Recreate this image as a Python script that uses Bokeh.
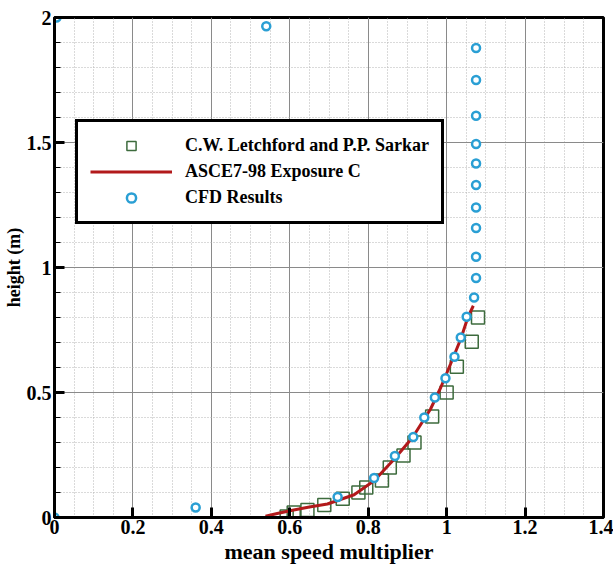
from bokeh.plotting import figure
from bokeh.models import Legend, LegendItem, FixedTicker, Range1d
from bokeh.embed import file_html
from bokeh.resources import INLINE

# ---- data ----
letchford_x = [0.592, 0.61, 0.645, 0.688, 0.735, 0.775, 0.795, 0.835, 0.855,
               0.89, 0.918, 0.963, 1.0, 1.026, 1.064, 1.08]
letchford_y = [0.004, 0.02, 0.03, 0.05, 0.075, 0.10, 0.12, 0.148, 0.20,
               0.248, 0.30, 0.404, 0.50, 0.603, 0.703, 0.80]

asce_x = [0.538, 0.568, 0.61, 0.65, 0.696, 0.764, 0.815, 0.866, 0.913,
          0.959, 0.985, 1.010, 1.036, 1.054, 1.068]
asce_y = [0.005, 0.016, 0.03, 0.042, 0.054, 0.091, 0.147, 0.233, 0.32,
          0.434, 0.52, 0.614, 0.714, 0.80, 0.847]

cfd_x = [0.0, 0.36, 0.722, 0.815, 0.868, 0.915, 0.943, 0.97, 0.997, 1.020,
         1.036, 1.051, 1.070, 1.075, 1.075, 1.075, 1.075, 1.075, 1.075,
         1.075, 1.075, 1.075, 1.075, 0.54, 0.005]
cfd_y = [0.0, 0.04, 0.082, 0.158, 0.246, 0.322, 0.40, 0.48, 0.557, 0.643,
         0.72, 0.803, 0.88, 0.958, 1.043, 1.158, 1.24, 1.33, 1.416, 1.494,
         1.607, 1.75, 1.878, 1.965, 2.0]

x_ticks = [0, 0.2, 0.4, 0.6, 0.8, 1, 1.2, 1.4]
x_tick_labels = ["0", "0.2", "0.4", "0.6", "0.8", "1", "1.2", "1.4"]
y_ticks = [0, 0.5, 1, 1.5, 2]
y_tick_labels = ["0", "0.5", "1", "1.5", "2"]

series_names = ["C.W. Letchford and P.P. Sarkar", "ASCE7-98 Exposure C", "CFD Results"]

FONT = "Liberation Serif"

p = figure(width=613, height=570, x_range=Range1d(0, 1.4), y_range=Range1d(0, 2),
           output_backend="svg", toolbar_location=None,
           min_border_left=54, min_border_right=10, min_border_top=17, min_border_bottom=53,
           x_axis_label="mean speed multiplier", y_axis_label="height (m)")

p.outline_line_color = "black"
p.outline_line_alpha = 1.0
p.outline_line_width = 3
p.background_fill_color = "white"
p.border_fill_color = "white"

x_minor = [round(i * 0.05, 2) for i in range(29)]
y_minor = [round(i * 0.1, 1) for i in range(21)]
xt = FixedTicker(ticks=x_ticks, minor_ticks=x_minor)
yt = FixedTicker(ticks=y_ticks, minor_ticks=y_minor)
p.xaxis.ticker = xt
p.yaxis.ticker = yt
p.xgrid.ticker = xt
p.ygrid.ticker = yt
p.xaxis.major_label_overrides = dict(zip(x_ticks, x_tick_labels))
p.yaxis.major_label_overrides = dict(zip(y_ticks, y_tick_labels))

for g in (p.xgrid, p.ygrid):
    g.grid_line_color = "#8a8a8a"
    g.grid_line_width = 1
    g.minor_grid_line_color = "#b4b4b4"
    g.minor_grid_line_dash = "1 2"
    g.minor_grid_line_width = 1

for ax in (p.xaxis, p.yaxis):
    ax.axis_line_width = 3
    ax.axis_line_color = "black"
    ax.major_tick_in = 10
    ax.major_tick_out = 0
    ax.major_tick_line_width = 3
    ax.major_tick_line_color = "black"
    ax.major_label_text_font = FONT
    ax.major_label_text_font_style = "bold"
    ax.major_label_text_font_size = "20px"
    ax.major_label_text_color = "black"
    ax.axis_label_text_font = FONT
    ax.axis_label_text_font_style = "bold"
    ax.axis_label_text_color = "black"

p.xaxis.minor_tick_in = 0
p.xaxis.minor_tick_out = 0
p.yaxis.minor_tick_in = 6
p.yaxis.minor_tick_out = 0
p.yaxis.minor_tick_line_width = 1
p.yaxis.minor_tick_line_color = "black"
p.xaxis.axis_label_text_font_size = "22px"
p.yaxis.axis_label_text_font_size = "18px"
p.xaxis.major_label_standoff = 2
p.xaxis.axis_label_standoff = 2
p.yaxis.major_label_standoff = 3
p.yaxis.axis_label_standoff = 0

r_sq = p.scatter(letchford_x, letchford_y, marker="square", size=13,
                 fill_color=None, line_color="#3d6b3d", line_width=1.5)
r_line = p.line(asce_x, asce_y, line_color="#b2191b", line_width=3)
r_cfd = p.scatter(cfd_x, cfd_y, marker="circle", size=8,
                  fill_color="white", line_color="#2a9fd4", line_width=2.5)

legend = Legend(items=[LegendItem(label=series_names[0], renderers=[r_sq]),
                       LegendItem(label=series_names[1], renderers=[r_line]),
                       LegendItem(label=series_names[2], renderers=[r_cfd])],
                location=(21, 293))
legend.glyph_width = 82
legend.glyph_height = 23
legend.label_height = 23
legend.spacing = 3
legend.padding = 12
legend.margin = 0
legend.label_standoff = 13
legend.border_line_color = "black"
legend.border_line_alpha = 1.0
legend.border_line_width = 3
legend.background_fill_color = "white"
legend.background_fill_alpha = 1
legend.label_text_font = FONT
legend.label_text_font_style = "bold"
legend.label_text_font_size = "18px"
legend.label_text_color = "black"
p.add_layout(legend)

open("out.html", "w").write(file_html(p, INLINE))
